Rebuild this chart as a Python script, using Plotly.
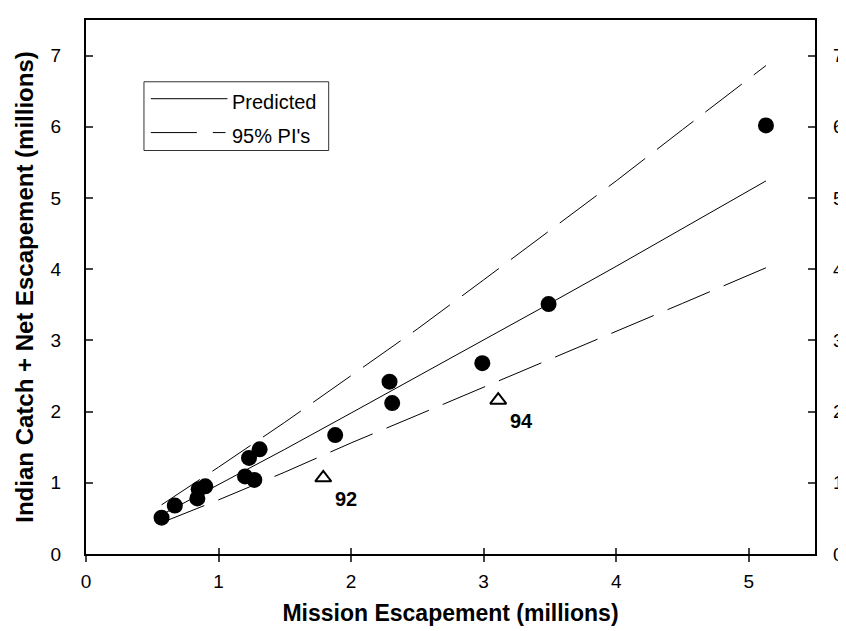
import plotly.graph_objects as go

# Observed data (millions)
obs_x = [0.57, 0.67, 0.84, 0.85, 0.90, 1.20, 1.23, 1.27, 1.31, 1.88, 2.29, 2.31, 2.99, 3.49, 5.13]
obs_y = [0.51, 0.68, 0.78, 0.91, 0.95, 1.09, 1.35, 1.04, 1.47, 1.67, 2.42, 2.12, 2.68, 3.51, 6.02]

# Highlighted years
yr_x = [1.79, 3.11]
yr_y = [1.07, 2.16]
yr_labels = ["92", "94"]

# Fitted curve and 95% prediction intervals
fit_x = [0.57, 1.0, 1.5, 2.0, 2.5, 3.0, 3.5, 4.0, 4.5, 5.13]
pred_y = [0.55, 0.97, 1.47, 1.98, 2.49, 3.00, 3.52, 4.04, 4.57, 5.24]
upper_y = [0.69, 1.22, 1.85, 2.50, 3.16, 3.85, 4.55, 5.24, 5.96, 6.86]
lower_y = [0.44, 0.76, 1.15, 1.56, 1.95, 2.34, 2.73, 3.13, 3.52, 4.02]

x_ticks = [0, 1, 2, 3, 4, 5]
y_ticks = [0, 1, 2, 3, 4, 5, 6, 7]
x_range = [0, 5.5]
y_range = [0, 7.5]

FONT = "Arial, Liberation Sans, sans-serif"
W, H = 846, 631
L, R, T, B = 78, 820, 10, 546


def px(x):
    return (x - L) / (R - L)


def py(y):
    return (B - y) / (B - T)


fig = go.Figure()
fig.add_trace(go.Scatter(x=fit_x, y=upper_y, mode="lines",
                         line=dict(color="black", width=1, dash="46px,15px"), showlegend=False))
fig.add_trace(go.Scatter(x=fit_x, y=lower_y, mode="lines",
                         line=dict(color="black", width=1, dash="46px,15px"), showlegend=False))
fig.add_trace(go.Scatter(x=fit_x, y=pred_y, mode="lines",
                         line=dict(color="black", width=1), showlegend=False))
fig.add_trace(go.Scatter(x=obs_x, y=obs_y, mode="markers",
                         marker=dict(color="black", size=16, symbol="circle"), showlegend=False))
fig.add_trace(go.Scatter(x=yr_x, y=yr_y, mode="markers",
                         marker=dict(color="white", size=14, symbol="triangle-up",
                                     line=dict(color="black", width=2)), showlegend=False))
# invisible trace to carry secondary axes
fig.add_trace(go.Scatter(x=[None], y=[None], xaxis="x2", yaxis="y2", showlegend=False))

for xv, yv, lab in zip(yr_x, yr_y, yr_labels):
    fig.add_annotation(x=xv, y=yv, text="<b>%s</b>" % lab, showarrow=False,
                       xshift=23, yshift=-21, font=dict(family=FONT, size=20, color="black"))

# Legend drawn as box
fig.add_shape(type="rect", xref="paper", yref="paper", x0=px(137), x1=px(325), y0=py(141), y1=py(72),
              line=dict(color="#333", width=1), fillcolor="white", layer="below")
fig.add_shape(type="line", xref="paper", yref="paper", x0=px(144), x1=px(222), y0=py(89), y1=py(89),
              line=dict(color="black", width=1))
fig.add_shape(type="line", xref="paper", yref="paper", x0=px(144), x1=px(220), y0=py(123), y1=py(123),
              line=dict(color="black", width=1, dash="46px,16px"))
fig.add_annotation(xref="paper", yref="paper", x=px(225), y=py(92), text="Predicted", showarrow=False,
                   xanchor="left", yanchor="middle", font=dict(family=FONT, size=20, color="black"))
fig.add_annotation(xref="paper", yref="paper", x=px(225), y=py(126), text="95% PI's", showarrow=False,
                   xanchor="left", yanchor="middle", font=dict(family=FONT, size=20, color="black"))

tickfont = dict(family=FONT, size=19, color="black")
fig.update_layout(
    width=W, height=H,
    margin=dict(l=L, r=W - R, t=T, b=H - B),
    paper_bgcolor="white", plot_bgcolor="white",
    showlegend=False,
    xaxis=dict(range=x_range, tickvals=x_ticks, ticks="outside", ticklen=6, tickwidth=2,
               showline=True, linewidth=2, linecolor="black", mirror=True, showgrid=False,
               zeroline=False, tickfont=tickfont, ticklabelstandoff=3,
               title=dict(text="<b>Mission Escapement (millions)</b>",
                          font=dict(family=FONT, size=23, color="black"), standoff=14)),
    yaxis=dict(range=y_range, tickvals=y_ticks, ticks="inside", ticklen=7, tickwidth=2,
               showline=True, linewidth=2, linecolor="black", mirror=True, showgrid=False,
               zeroline=False, tickfont=tickfont, ticklabelstandoff=19,
               title=dict(text="<b>Indian Catch + Net Escapement (millions)</b>",
                          font=dict(family=FONT, size=24, color="black"), standoff=10)),
    xaxis2=dict(range=x_range, tickvals=x_ticks, ticks="inside", ticklen=6, tickwidth=2,
                overlaying="x", side="bottom", showticklabels=False, showgrid=False,
                zeroline=False, showline=False),
    yaxis2=dict(range=y_range, tickvals=y_ticks, ticks="inside", ticklen=7, tickwidth=2,
                overlaying="y", side="right", showticklabels=True, showgrid=False,
                zeroline=False, showline=False, tickfont=tickfont, ticklabelstandoff=17),
)

fig.write_html("out.html")
